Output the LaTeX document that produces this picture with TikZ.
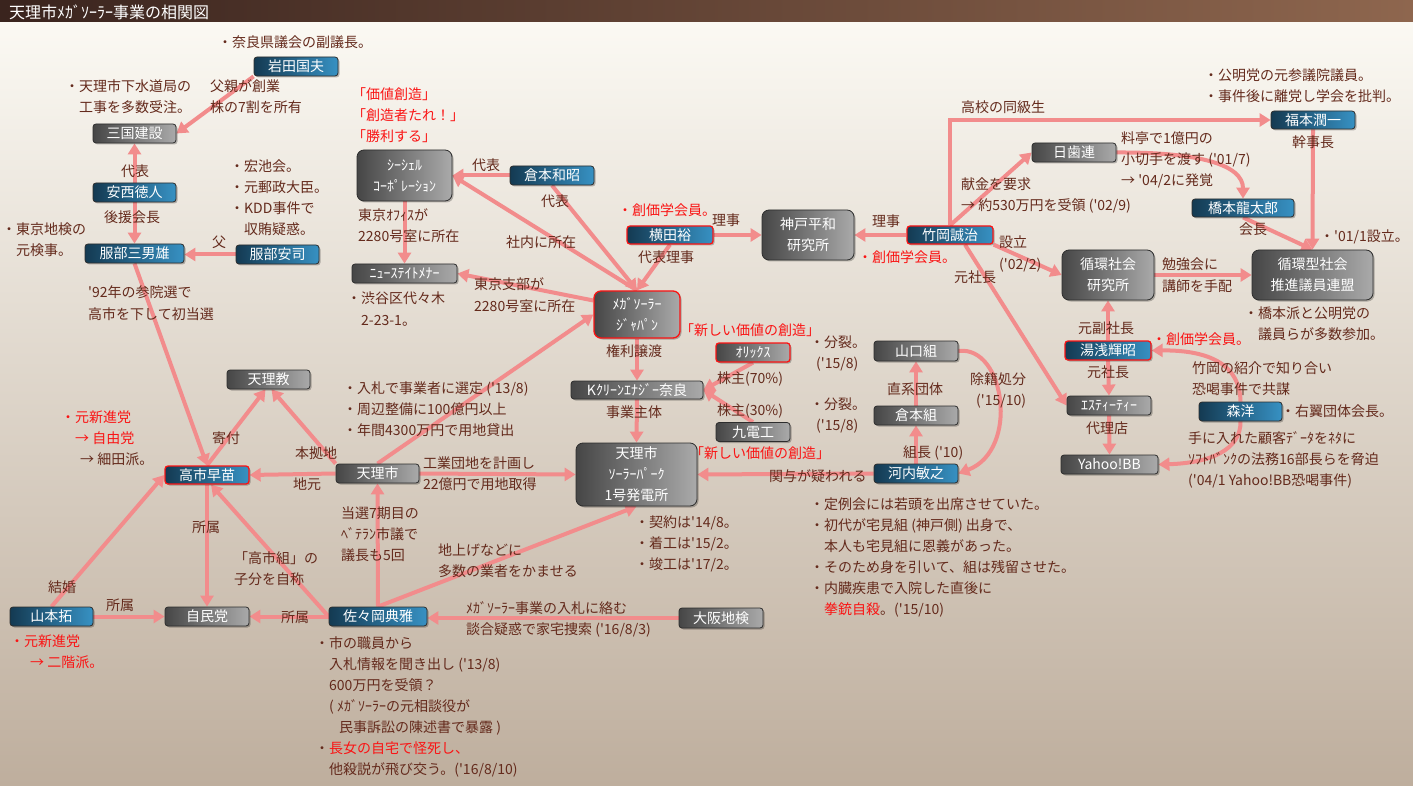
\documentclass[tikz,border=0pt]{standalone}
\usepackage{fontspec}
\setmainfont{Noto Sans CJK JP}[Ligatures=TeXOff]
\usetikzlibrary{arrows.meta,shadows,calc}
\pgfdeclarelayer{bg}\pgfdeclarelayer{edges}
\pgfsetlayers{bg,edges,main}
\definecolor{tb}{RGB}{100,42,28}
\definecolor{jr}{RGB}{250,20,20}
\definecolor{pk}{RGB}{242,140,140}
\definecolor{bl1}{RGB}{20,58,82}
\definecolor{bl2}{RGB}{28,78,108}
\definecolor{bl3}{RGB}{55,145,195}
\definecolor{gr1}{RGB}{70,70,70}
\definecolor{gr2}{RGB}{95,95,95}
\definecolor{gr3}{RGB}{170,170,170}
\definecolor{bd}{RGB}{45,45,45}
\definecolor{bgt}{RGB}{251,249,243}
\definecolor{bgm}{RGB}{231,223,211}
\definecolor{bgb}{RGB}{190,174,157}
\definecolor{tt1}{RGB}{58,36,30}
\definecolor{tt2}{RGB}{142,102,78}
\newcommand\ml[1]{\begin{tabular}[t]{@{}l@{}}#1\end{tabular}}
\newcommand\rd[1]{\textcolor{jr}{#1}}
\newcommand\labfont{\fontsize{14}{21}\selectfont}
\tikzset{
 box/.style={rounded corners=3pt, draw=bd, line width=0.8pt, text=white, inner sep=0pt, font=\labfont, align=center, drop shadow={shadow xshift=1.5pt, shadow yshift=-1.5pt, opacity=0.25, fill=black}},
 pbox/.style={box, left color=bl1, middle color=bl2, right color=bl3},
 gbox/.style={box, left color=gr1, middle color=gr2, right color=gr3},
 redb/.style={draw=jr, line width=1.3pt},
 big/.style={rounded corners=7pt},
 lab/.style={anchor=base west, inner sep=0pt, text=tb, font=\labfont},
 arr/.style={draw=pk, line width=4pt, -{Triangle[length=11pt,width=13pt]}},
}
\begin{document}
\begin{tikzpicture}[x=1pt,y=-1pt]
\useasboundingbox (0,0) rectangle (1413,786);
\begin{pgfonlayer}{bg}
\shade[top color=bgt, middle color=bgm, bottom color=bgb] (0,22) rectangle (1413,786);
\shade[left color=tt1, right color=tt2] (0,0) rectangle (1413,22);
\end{pgfonlayer}
\node[anchor=base west, inner sep=0pt, text=white, font=\fontsize{16}{16}\selectfont] (title) at (9,19) {天理市ﾒｶﾞｿｰﾗｰ事業の相関図};
% nodes
\node[pbox, minimum width=84pt, minimum height=19pt] (iwata) at (296,66.5) {岩田国夫};
\node[gbox, minimum width=83pt, minimum height=19pt] (mikuni) at (134.5,133.5) {三国建設};
\node[pbox, minimum width=83pt, minimum height=19pt] (anzai) at (134.5,192.5) {安西徳人};
\node[pbox, minimum width=99pt, minimum height=19pt] (hattori) at (134.5,253.5) {服部三男雄};
\node[pbox, minimum width=83pt, minimum height=19pt] (hattoriY) at (277.5,254.5) {服部安司};
\node[gbox, big, minimum width=95pt, minimum height=51pt] (cc) at (404.5,175.5) {ｼｰｼｪﾙ\\ｺｰﾎﾟﾚｰｼｮﾝ};
\node[pbox, minimum width=84pt, minimum height=19pt] (kuramoto) at (552,175.5) {倉本和昭};
\node[gbox, minimum width=105pt, minimum height=19pt] (news) at (404.5,273.5) {ﾆｭｰｽﾃｲﾄﾒﾅｰ};
\node[pbox, redb, minimum width=86pt, minimum height=18pt] (yokota) at (670,235) {横田裕};
\node[gbox, big, minimum width=92pt, minimum height=50pt] (kobe) at (808,235) {神戸平和\\研究所};
\node[pbox, redb, minimum width=86pt, minimum height=18pt] (takeoka) at (950,235) {竹岡誠治};
\node[gbox, minimum width=84pt, minimum height=19pt] (nisshi) at (1074,152.5) {日歯連};
\node[pbox, minimum width=84pt, minimum height=18pt] (fukumoto) at (1313,120) {福本潤一};
\node[pbox, minimum width=102pt, minimum height=18pt] (hashimoto) at (1243,208) {橋本龍太郎};
\node[gbox, big, minimum width=92pt, minimum height=50pt] (junkan) at (1108,275) {循環社会\\研究所};
\node[gbox, big, minimum width=121pt, minimum height=50pt] (junkangata) at (1312.5,275) {循環型社会\\推進議員連盟};
\node[gbox, big, redb, minimum width=86pt, minimum height=47pt] (mega) at (637,314.5) {ﾒｶﾞｿｰﾗｰ\\ｼﾞｬﾊﾟﾝ};
\node[gbox, minimum width=132pt, minimum height=18pt] (kclean) at (637,390) {Kｸﾘｰﾝｴﾅｼﾞｰ奈良};
\node[gbox, redb, minimum width=74pt, minimum height=19pt] (orix) at (753,352.5) {ｵﾘｯｸｽ};
\node[gbox, minimum width=74pt, minimum height=19pt] (kyuden) at (753,432) {九電工};
\node[gbox, big, minimum width=121pt, minimum height=63pt] (park) at (636.5,474.5) {天理市\\ｿｰﾗｰﾊﾟｰｸ\\1号発電所};
\node[gbox, minimum width=84pt, minimum height=20pt] (yamaguchi) at (916,351) {山口組};
\node[gbox, minimum width=84pt, minimum height=19pt] (kuramotoG) at (916,415.5) {倉本組};
\node[pbox, minimum width=84pt, minimum height=19pt] (kawachi) at (916,473.5) {河内敏之};
\node[pbox, redb, minimum width=86pt, minimum height=19pt] (yuasa) at (1108,350.5) {湯浅輝昭};
\node[gbox, minimum width=84pt, minimum height=19pt] (estt) at (1109,405.5) {ｴｽﾃｨｰﾃｨｰ};
\node[pbox, minimum width=83pt, minimum height=19pt] (mori) at (1240.5,411.5) {森洋};
\node[gbox, minimum width=97pt, minimum height=19pt] (yahoo) at (1109.5,464.5) {Yahoo!BB};
\node[gbox, minimum width=83pt, minimum height=19pt] (tenrikyo) at (268.5,379.5) {天理教};
\node[pbox, redb, minimum width=84pt, minimum height=18pt] (takaichi) at (207,475) {高市早苗};
\node[gbox, minimum width=83pt, minimum height=19pt] (tenrishi) at (377.5,473.5) {天理市};
\node[pbox, minimum width=83pt, minimum height=19pt] (yamamoto) at (51.5,616.5) {山本拓};
\node[gbox, minimum width=84pt, minimum height=19pt] (jimin) at (207,616.5) {自民党};
\node[pbox, minimum width=98pt, minimum height=19pt] (sasaoka) at (378,616.5) {佐々岡典雅};
\node[gbox, minimum width=84pt, minimum height=20pt] (osaka) at (721,618) {大阪地検};
% edges
\begin{pgfonlayer}{edges}
\draw[arr] (iwata.south west) -- (mikuni.east);
\draw[arr] (anzai.north) -- (mikuni.south);
\draw[arr] (anzai.south) -- (hattori.north);
\draw[arr] (hattoriY.west) -- (hattoriY.west -| hattori.east);
\draw[arr] (hattori.south) -- (takaichi.north);
\draw[arr] (kuramoto.west) -- (cc.east);
\draw[arr] (kuramoto.south) -- (mega.north);
\draw[arr] (yokota.south) -- (mega.north);
\draw[arr] (mega.north) -- (cc.east);
\draw[arr] (cc.south) -- (news.north);
\draw[arr] ($(mega.west)+(0,-14)$) -- (news.east);
\draw[arr] (yokota.east) -- (kobe.west);
\draw[arr] (takeoka.west) -- (kobe.east);
\draw[arr] (takeoka.north) |- (fukumoto.west);
\draw[arr] (takeoka.north) -- (nisshi.west);
\draw[arr] (nisshi.east) .. controls (1200,152) and (1243,165) .. (hashimoto.north);
\draw[arr] (fukumoto.south) -- (junkangata.north);
\draw[arr] (hashimoto.south) -- (junkangata.north);
\draw[arr] (takeoka.south east) -- (junkan.west);
\draw[arr] (junkan.east) -- (junkangata.west);
\draw[arr] ($(takeoka.south)+(15,0)$) -- (estt.west);
\draw[arr] (yuasa.north) -- (junkan.south);
\draw[arr] (yuasa.south) -- (estt.north);
\draw[arr] (estt.south) -- (yahoo.north);
\draw[arr] (mori.north) .. controls (1240,365) and (1210,350) .. (yuasa.east);
\draw[arr] (mori.south) .. controls (1241,450) and (1210,463) .. (yahoo.east);
\draw[arr] (mega.south) -- (kclean.north);
\draw[arr] (kclean.south) -- (park.north);
\draw[arr] (orix.south) -- (kclean.east);
\draw[arr] (kyuden.north) -- (kclean.east);
\draw[arr] (kawachi.west) -- (park.east);
\draw[arr] (kawachi.north) -- (kuramotoG.south);
\draw[arr] (kuramotoG.north) -- (yamaguchi.south);
\draw[arr] (yamaguchi.east) .. controls (1005,345) and (1020,450) .. (kawachi.east);
\draw[arr] (tenrishi.north west) -- ($(tenrikyo.south)+(3,0)$);
\draw[arr] (takaichi.north) -- ($(tenrikyo.south)+(-3,0)$);
\draw[arr] (tenrishi.west) -- (takaichi.east);
\draw[arr] (tenrishi.north) -- (mega.west);
\draw[arr] (tenrishi.east) -- (park.west);
\draw[arr] (sasaoka.north) -- (tenrishi.south);
\draw[arr] (sasaoka.north) -- (park.south);
\draw[arr] (sasaoka.west) -- ($(takaichi.south)+(4,0)$);
\draw[arr] (takaichi.south) -- (jimin.north);
\draw[arr] (yamamoto.north) -- (takaichi.west);
\draw[arr] (yamamoto.east) -- (jimin.west);
\draw[arr] (sasaoka.west) -- (jimin.east);
\draw[arr] (osaka.west) -- (osaka.west -| sasaoka.east);
\end{pgfonlayer}
% labels
\node[lab] (t1) at (218,48) {・奈良県議会の副議長。};
\node[lab] (t2) at (65,92) {\ml{・天理市下水道局の\\\phantom{・}工事を多数受注。}};
\node[lab] (t3) at (210,92) {\ml{父親が創業\\株の7割を所有}};
\node[lab] (t4) at (121,177) {代表};
\node[lab] (t5) at (104,223) {後援会長};
\node[lab] (t6) at (230,172) {\ml{・宏池会。\\・元郵政大臣。\\・KDD事件で\\\phantom{・}収賄疑惑。}};
\node[lab] (t7) at (2,235) {\ml{・東京地検の\\\phantom{・}元検事。}};
\node[lab] (t8) at (212,248) {父};
\node[lab] (t9) at (88,298) {\ml{'92年の参院選で\\高市を下して初当選}};
\node[lab,text=jr] (t10) at (352,100) {\ml{「価値創造」\\「創造者たれ！」\\「勝利する」}};
\node[lab] (t11) at (472,171) {代表};
\node[lab] (t12) at (541,207) {代表};
\node[lab] (t13) at (358,221) {\ml{東京ｵﾌｨｽが\\2280号室に所在}};
\node[lab] (t14) at (506,248) {社内に所在};
\node[lab,text=jr] (t15) at (618,216) {・創価学会員。};
\node[lab] (t16) at (638,263) {代表理事};
\node[lab] (t17) at (712,226) {理事};
\node[lab] (t18) at (872,227) {理事};
\node[lab,text=jr] (t19) at (858,263) {・創価学会員。};
\node[lab] (t20) at (961,113) {高校の同級生};
\node[lab] (t21) at (961,190) {\ml{献金を要求\\→ 約530万円を受領 ('02/9)}};
\node[lab] (t22) at (999,248) {\ml{設立\\('02/2)}};
\node[lab] (t23) at (1204,81) {\ml{・公明党の元参議院議員。\\・事件後に離党し学会を批判。}};
\node[lab] (t24) at (1121,144) {\ml{料亭で1億円の\\小切手を渡す ('01/7)\\→ '04/2に発覚}};
\node[lab] (t25) at (1292,148) {幹事長};
\node[lab] (t26) at (1239,235) {会長};
\node[lab] (t27) at (1320,242) {・'01/1設立。};
\node[lab] (t28) at (1162,270) {\ml{勉強会に\\講師を手配}};
\node[lab] (t29) at (954,283) {元社長};
\node[lab] (t30) at (1244,318) {\ml{・橋本派と公明党の\\\phantom{・}議員らが多数参加。}};
\node[lab] (t31) at (1078,333) {元副社長};
\node[lab,text=jr] (t32) at (1152,344) {・創価学会員。};
\node[lab] (t33) at (1087,377) {元社長};
\node[lab] (t34) at (1086,433) {代理店};
\node[lab] (t35) at (1192,373) {\ml{竹岡の紹介で知り合い\\恐喝事件で共謀}};
\node[lab] (t36) at (1281,416) {・右翼団体会長。};
\node[lab] (t37) at (1188,443) {\ml{手に入れた顧客ﾃﾞｰﾀをﾈﾀに\\ｿﾌﾄﾊﾞﾝｸの法務16部長らを脅迫\\('04/1 Yahoo!BB恐喝事件)}};
\node[lab] (t38) at (474,290) {\ml{東京支部が\\2280号室に所在}};
\node[lab] (t39) at (347,304) {\ml{・渋谷区代々木\\\phantom{・}2-23-1。}};
\node[lab] (t40) at (606,356) {権利譲渡};
\node[lab] (t41) at (606,417) {事業主体};
\node[lab,text=jr] (t42) at (680,335) {「新しい価値の創造」};
\node[lab] (t43) at (717,383) {株主(70\%)};
\node[lab] (t44) at (717,415) {株主(30\%)};
\node[lab] (t45) at (810,347) {\ml{・分裂。\\\hspace{6pt}('15/8)}};
\node[lab] (t46) at (810,409) {\ml{・分裂。\\\hspace{6pt}('15/8)}};
\node[lab] (t47) at (887,394) {直系団体};
\node[lab] (t48) at (970,384) {\ml{除籍処分\\\hspace{6pt}('15/10)}};
\node[lab] (t49) at (903,457) {組長 ('10)};
\node[lab] (t50) at (769,481) {関与が疑われる};
\node[lab,text=jr] (t51) at (690,458) {「新しい価値の創造」};
\node[lab] (t52) at (635,527) {\ml{・契約は'14/8。\\・着工は'15/2。\\・竣工は'17/2。}};
\node[lab] (t53) at (810,509) {\ml{・定例会には若頭を出席させていた。\\・初代が宅見組 (神戸側) 出身で、\\\phantom{・}本人も宅見組に恩義があった。\\・そのため身を引いて、組は残留させた。\\・内臓疾患で入院した直後に\\\phantom{・}\rd{拳銃自殺}。('15/10)}};
\node[lab] (t54) at (343,393) {\ml{・入札で事業者に選定 ('13/8)\\・周辺整備に100億円以上\\・年間4300万円で用地貸出}};
\node[lab] (t55) at (423,468) {\ml{工業団地を計画し\\22億円で用地取得}};
\node[lab] (t56) at (212,443) {寄付};
\node[lab] (t57) at (295,458) {本拠地};
\node[lab] (t58) at (293,489) {地元};
\node[lab] (t59) at (61,422) {\ml{\rd{・元新進党}\\\rd{\phantom{・}→ 自由党}\\\phantom{・}\hspace{5pt}→ 細田派。}};
\node[lab] (t60) at (341,518) {\ml{当選7期目の\\ﾍﾞﾃﾗﾝ市議で\\議長も5回}};
\node[lab] (t61) at (438,555) {\ml{地上げなどに\\多数の業者をかませる}};
\node[lab] (t62) at (234,563) {\ml{「高市組」の\\子分を自称}};
\node[lab] (t63) at (192,532) {所属};
\node[lab] (t64) at (48,592) {結婚};
\node[lab] (t65) at (106,610) {所属};
\node[lab] (t66) at (281,622) {所属};
\node[lab,text=jr] (t67) at (10,646) {\ml{・元新進党\\\phantom{・}\hspace{6pt}→ 二階派。}};
\node[lab] (t68) at (466,613) {\ml{ﾒｶﾞｿｰﾗｰ事業の入札に絡む\\談合疑惑で家宅捜索 ('16/8/3)}};
\node[lab] (t69) at (315,648) {\ml{・市の職員から\\\phantom{・}入札情報を聞き出し ('13/8)\\\phantom{・}600万円を受領？\\\phantom{・}( ﾒｶﾞｿｰﾗｰの元相談役が\\\phantom{・}\hspace{10pt}民事訴訟の陳述書で暴露 )\\・\rd{長女の自宅で怪死し、}\\\phantom{・}他殺説が飛び交う。('16/8/10)}};
\end{tikzpicture}
\end{document}
